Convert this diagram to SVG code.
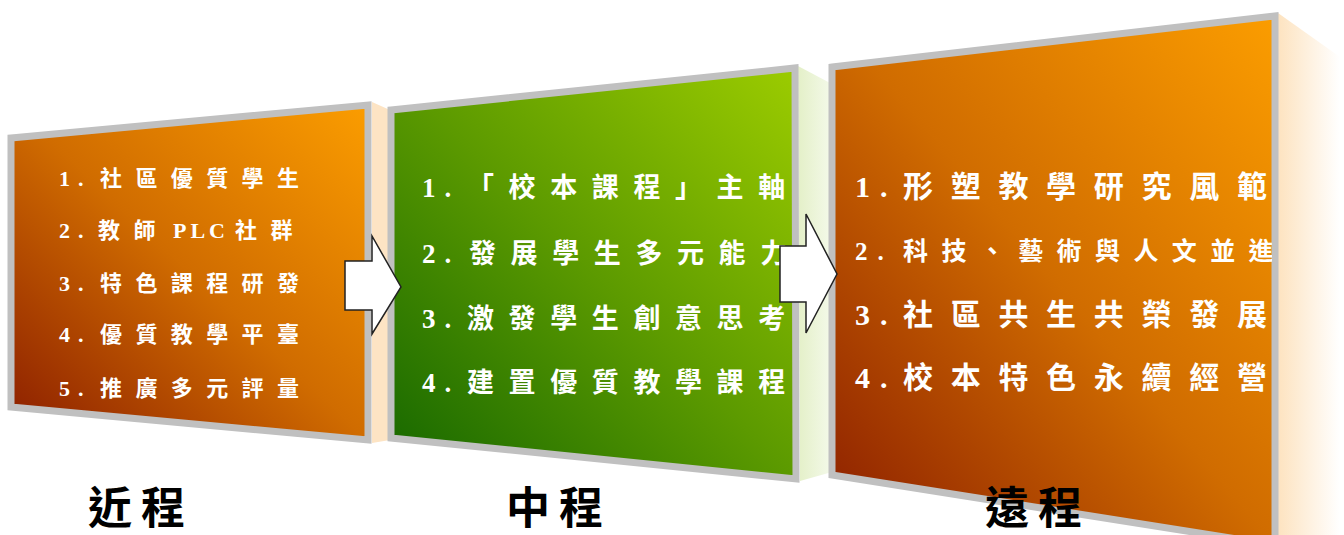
<svg xmlns="http://www.w3.org/2000/svg" width="1344" height="535" viewBox="0 0 1344 535">
<style>
.frame{stroke:#c0c0c0;stroke-width:7;stroke-linejoin:miter}
.t{fill:#ffffff;font-family:"Liberation Serif","Noto Sans CJK TC",serif;font-weight:bold}
.s1{font-size:22px;letter-spacing:13.4px}
.n1{font-size:22px;letter-spacing:8px}
.s2{font-size:27px;letter-spacing:14.6px}
.n2{font-size:27px;letter-spacing:9px}
.s3{font-size:30px;letter-spacing:17.7px}
.n3{font-size:30px;letter-spacing:10px}
.lbl{fill:#000000;font-family:"Liberation Serif","Noto Sans CJK TC",serif;font-weight:bold;font-size:44px;letter-spacing:9px}
.arrow{fill:#ffffff;stroke:#222222;stroke-width:1.5;stroke-linejoin:miter}
</style>
<defs>
<linearGradient id="gOrange" x1="1" y1="0" x2="0" y2="1">
<stop offset="0" stop-color="#fb9d00"/>
<stop offset="0.5" stop-color="#d06c00"/>
<stop offset="1" stop-color="#8a1c00"/>
</linearGradient>
<linearGradient id="gGreen" x1="1" y1="0" x2="0" y2="1">
<stop offset="0" stop-color="#9ccc00"/>
<stop offset="0.5" stop-color="#5c9a00"/>
<stop offset="1" stop-color="#146600"/>
</linearGradient>
<linearGradient id="gPeach" x1="0" y1="0" x2="1" y2="0">
<stop offset="0" stop-color="#fde3c0"/>
<stop offset="1" stop-color="#ffffff"/>
</linearGradient>
<linearGradient id="gLime" x1="0" y1="0" x2="1" y2="0">
<stop offset="0" stop-color="#e4f0c8"/>
<stop offset="1" stop-color="#f4f9ea"/>
</linearGradient>
<clipPath id="cMid"><polygon points="395,112 792,72 792,476 395,436"/></clipPath>
<clipPath id="cRight"><polygon points="836,70 1272,20 1272,540 836,472"/></clipPath>
</defs>
<rect width="1344" height="535" fill="#ffffff"/>

<g id="node-near">
<polygon points="372,102 390,110 390,440 372,443" fill="#fde4c4"/>
<polygon class="frame" points="11,138 368,105 368,440 11,407" fill="url(#gOrange)"/>
<text class="t n1" x="59" y="186">1.</text>
<text class="t s1" x="100" y="186">社區優質學生</text>
<text class="t n1" x="59" y="238">2.</text>
<text class="t s1" x="98" y="238">教師</text>
<text class="t" font-size="22" letter-spacing="4" x="173" y="238">PLC</text>
<text class="t s1" x="235" y="238">社群</text>
<text class="t n1" x="59" y="291">3.</text>
<text class="t s1" x="100" y="291">特色課程研發</text>
<text class="t n1" x="59" y="342">4.</text>
<text class="t s1" x="100" y="342">優質教學平臺</text>
<text class="t n1" x="59" y="396">5.</text>
<text class="t s1" x="100" y="396">推廣多元評量</text>
<text class="lbl" x="88" y="524">近程</text>
</g>

<g id="node-mid">
<polygon points="798,66 832,84 832,472 800,481" fill="url(#gLime)"/>
<polygon class="frame" points="391,110 795,68 796,479 391,438" fill="url(#gGreen)"/>
<g clip-path="url(#cMid)">
<text class="t n2" x="422" y="197">1.</text>
<text class="t s2" x="467" y="197">「校本課程」主軸</text>
<text class="t n2" x="422" y="263">2.</text>
<text class="t s2" x="469" y="263" letter-spacing="15.2">發展學生多元能力</text>
<text class="t n2" x="422" y="328">3.</text>
<text class="t s2" x="467" y="328">激發學生創意思考</text>
<text class="t n2" x="422" y="392">4.</text>
<text class="t s2" x="467" y="392">建置優質教學課程</text>
</g>
<text class="lbl" x="506" y="524">中程</text>
</g>

<g id="node-far">
<polygon points="1278,13 1340,57 1340,535 1278,535" fill="url(#gPeach)"/>
<polygon class="frame" points="832,67 1275,16 1275,545 832,475" fill="url(#gOrange)"/>
<g clip-path="url(#cRight)">
<text class="t n3" x="855" y="197">1.</text>
<text class="t s3" x="903" y="197">形塑教學研究風範</text>
<text class="t" font-size="25" letter-spacing="10" x="855" y="260">2.</text>
<text class="t" font-size="25" letter-spacing="13.4" x="903" y="260">科技、藝術與人文並進</text>
<text class="t n3" x="855" y="325">3.</text>
<text class="t s3" x="903" y="325">社區共生共榮發展</text>
<text class="t n3" x="855" y="388">4.</text>
<text class="t s3" x="903" y="388">校本特色永續經營</text>
</g>
<text class="lbl" x="985" y="524">遠程</text>
</g>

<g id="connectors">
<polygon class="arrow" points="345,261 372,261 372,236 401,287 372,334 372,310 345,310"/>
<polygon class="arrow" points="780,246 806,246 806,214 837,274 806,333 806,302 780,302"/>
</g>
</svg>
